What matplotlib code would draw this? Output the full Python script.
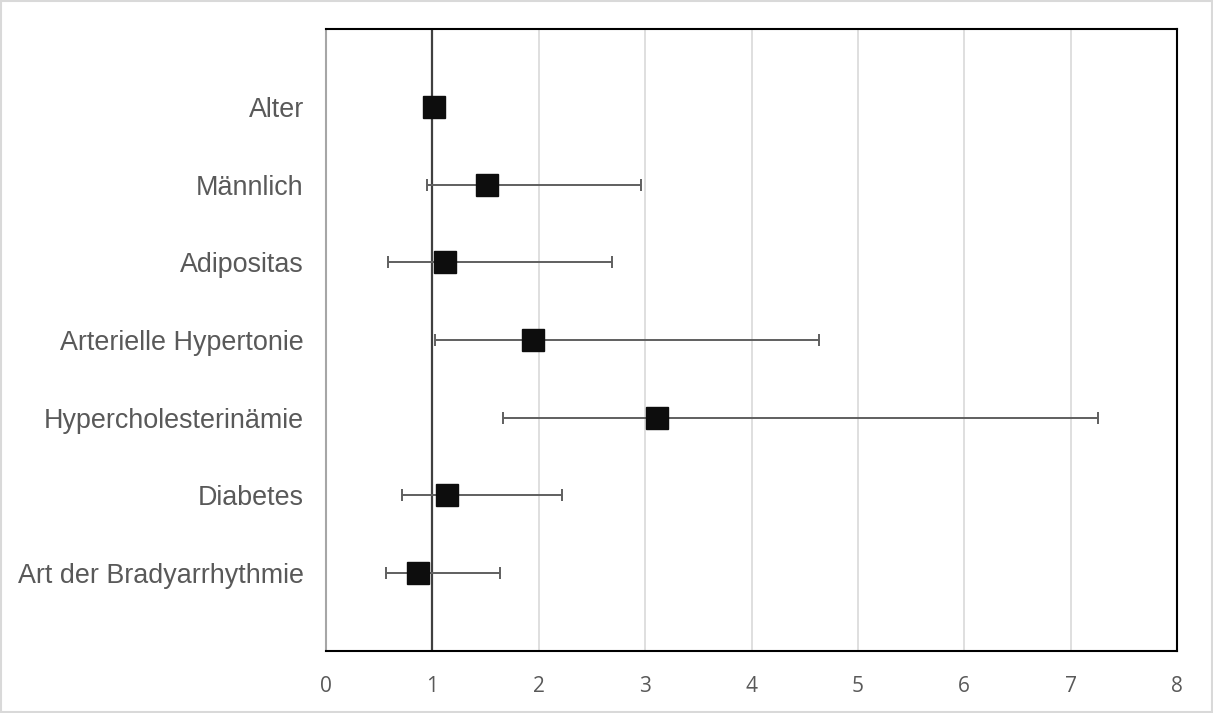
import matplotlib
matplotlib.use("Agg")
import matplotlib.pyplot as plt
from matplotlib.patches import Rectangle

# odds ratios with 95% CI, top to bottom
categories = ["Alter", "Männlich", "Adipositas", "Arterielle Hypertonie",
              "Hypercholesterinämie", "Diabetes", "Art der Bradyarrhythmie"]
odds_ratio = [1.015, 1.51, 1.12, 1.95, 3.11, 1.14, 0.865]
ci_lower = [1.0, 0.95, 0.58, 1.02, 1.66, 0.71, 0.56]
ci_upper = [1.03, 2.96, 2.69, 4.63, 7.26, 2.22, 1.64]
x_ticks = [0, 1, 2, 3, 4, 5, 6, 7, 8]

text_color = "#595959"

fig = plt.figure(figsize=(12.13, 7.13), dpi=100)
ax = fig.add_axes([0.2688, 0.087, 0.7015, 0.8723])

n = len(categories)
y_pos = [n - i for i in range(n)]
err_low = [o - l for o, l in zip(odds_ratio, ci_lower)]
err_high = [u - o for o, u in zip(odds_ratio, ci_upper)]

ax.errorbar(odds_ratio, y_pos, xerr=[err_low, err_high], fmt="none",
            ecolor="#5f5f5f", elinewidth=1.4, capsize=4.5, capthick=1.4, zorder=3)
ax.axvline(1, color="#404040", lw=1.6, zorder=2)
ax.plot(odds_ratio, y_pos, linestyle="none", marker="s", markersize=16,
        color="#0d0d0d", zorder=4)

ax.set_xlim(0, 8)
ax.set_ylim(0, n + 1)
ax.set_xticks(x_ticks)
ax.set_xticklabels([str(t) for t in x_ticks], fontsize=15, color=text_color,
                   family="Open Sans")
ax.set_yticks(y_pos)
ax.set_yticklabels(categories, fontsize=19.4, color=text_color,
                   family="Liberation Sans")
ax.tick_params(axis="both", length=0)
ax.tick_params(axis="x", pad=18)
ax.tick_params(axis="y", pad=16)

ax.grid(axis="x", color="#d9d9d9", lw=1.2, zorder=0)
ax.set_axisbelow(True)

for side in ["top", "right", "bottom"]:
    ax.spines[side].set_color("black")
    ax.spines[side].set_linewidth(1.5)
ax.spines["left"].set_color("#a6a6a6")
ax.spines["left"].set_linewidth(1.5)

# light border around the chart area
fig.patches.append(Rectangle((0.001, 0.001), 0.998, 0.998, transform=fig.transFigure,
                             fill=False, edgecolor="#d9d9d9", lw=1.5))

fig.savefig("out.png", dpi=100)
